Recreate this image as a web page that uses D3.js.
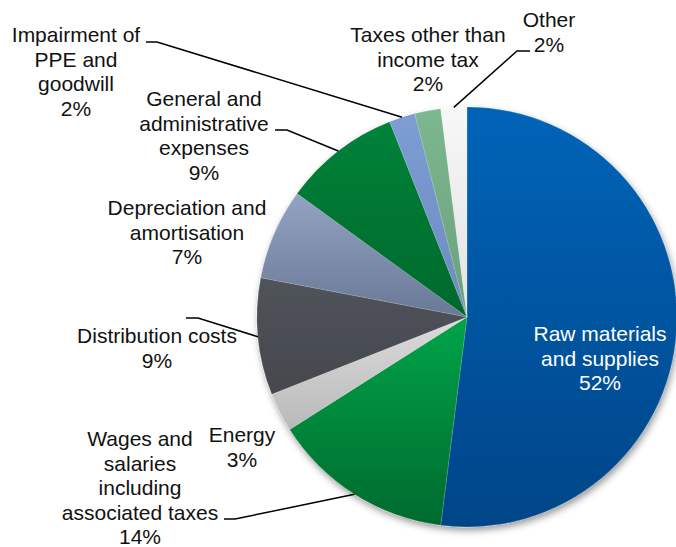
<!DOCTYPE html>
<html>
<head>
<meta charset="utf-8">
<script src="https://cdn.jsdelivr.net/npm/d3@7"></script>
<style>
  html, body { margin: 0; padding: 0; background: #fff; }
  svg { display: block; }
  text { font-family: "Liberation Sans", Arial, sans-serif; }
</style>
</head>
<body>
<svg id="chart" width="676" height="547"></svg>
<script>
// Cost structure (share of total costs, %)
const categories = [
  "Raw materials and supplies",
  "Wages and salaries including associated taxes",
  "Energy",
  "Distribution costs",
  "Depreciation and amortisation",
  "General and administrative expenses",
  "Impairment of PPE and goodwill",
  "Taxes other than income tax",
  "Other"
];
const values = [52, 14, 3, 9, 7, 9, 2, 2, 2];
const labelLines = [
  ["Raw materials", "and supplies"],
  ["Wages and", "salaries", "including", "associated taxes"],
  ["Energy"],
  ["Distribution costs"],
  ["Depreciation and", "amortisation"],
  ["General and", "administrative", "expenses"],
  ["Impairment of", "PPE and", "goodwill"],
  ["Taxes other than", "income tax"],
  ["Other"]
];
// slice fills: [top, bottom] of each slice's vertical gradient
const sliceColors = [
  ["#0064b8", "#004588"],
  ["#00a449", "#006a2e"],
  ["#dcdcdc", "#b9b9b9"],
  ["#50535a", "#45484e"],
  ["#93a3c2", "#687895"],
  ["#008239", "#00692c"],
  ["#7c9dd3", "#6d8bbf"],
  ["#7db78f", "#69a07b"],
  ["#f7f7f7", "#e2e2e2"]
];

// label layout: text centre x, first baseline y, text colour, optional leader elbow
const labelLayout = [
  { x: 600, y: 341, color: "#ffffff" },
  { x: 140, y: 446, color: "#111", elbow: [[235, 519], [224, 519]] },
  { x: 242, y: 442, color: "#111" },
  { x: 157, y: 343, color: "#111", elbow: [[198, 318], [186, 318]] },
  { x: 187, y: 215, color: "#111" },
  { x: 204, y: 106, color: "#111", elbow: [[287, 130], [275, 130]] },
  { x: 76,  y: 42,  color: "#111", elbow: [[157, 42], [146, 42]] },
  { x: 428, y: 42,  color: "#111" },
  { x: 549, y: 27,  color: "#111", elbow: [[517, 51], [530, 51]] }
];

const cx = 467, cy = 317, radius = 210;
const lineHeight = 24.5;

const svg = d3.select("#chart");
const defs = svg.append("defs");

const shadow = defs.append("filter").attr("id", "pieShadow")
  .attr("x", "-10%").attr("y", "-10%").attr("width", "125%").attr("height", "125%");
shadow.append("feDropShadow")
  .attr("dx", 1.5).attr("dy", 3.5).attr("stdDeviation", 3.5)
  .attr("flood-color", "#000").attr("flood-opacity", 0.4);

sliceColors.forEach((c, i) => {
  const g = defs.append("linearGradient").attr("id", "grad" + i)
    .attr("x1", 0).attr("y1", 0).attr("x2", 0).attr("y2", 1);
  g.append("stop").attr("offset", "0%").attr("stop-color", c[0]);
  g.append("stop").attr("offset", "100%").attr("stop-color", c[1]);
});

const data = categories.map((name, i) => ({ name, value: values[i], i }));

const pie = d3.pie().value(d => d.value).sort(null);
const arcs = pie(data);
const arc = d3.arc().innerRadius(0).outerRadius(radius);

const g = svg.append("g").attr("transform", `translate(${cx},${cy})`);

g.append("g").attr("filter", "url(#pieShadow)")
  .selectAll("path")
  .data(arcs)
  .join("path")
  .attr("d", arc)
  .attr("fill", d => `url(#grad${d.data.i})`)
  .attr("stroke", "rgba(255,255,255,0.3)")
  .attr("stroke-width", 0.5);

// leader lines from the middle of each slice's rim to the label elbow
const leaders = svg.append("g");
arcs.forEach(a => {
  const lay = labelLayout[a.data.i];
  if (!lay.elbow) return;
  const mid = (a.startAngle + a.endAngle) / 2;
  const px = cx + radius * Math.sin(mid);
  const py = cy - radius * Math.cos(mid);
  const pts = [[px, py], ...lay.elbow];
  leaders.append("path")
    .attr("d", d3.line()(pts))
    .attr("fill", "none")
    .attr("stroke", "#000")
    .attr("stroke-width", 1.5);
});

// labels: name lines followed by the percentage
const labels = svg.append("g");
arcs.forEach(a => {
  const lay = labelLayout[a.data.i];
  const lines = [...labelLines[a.data.i], a.data.value + "%"];
  const t = labels.append("text")
    .attr("text-anchor", "middle")
    .attr("font-size", 21)
    .attr("fill", lay.color);
  lines.forEach((ln, k) => {
    t.append("tspan")
      .attr("x", lay.x)
      .attr("y", lay.y + k * lineHeight)
      .text(ln);
  });
});
</script>
</body>
</html>
